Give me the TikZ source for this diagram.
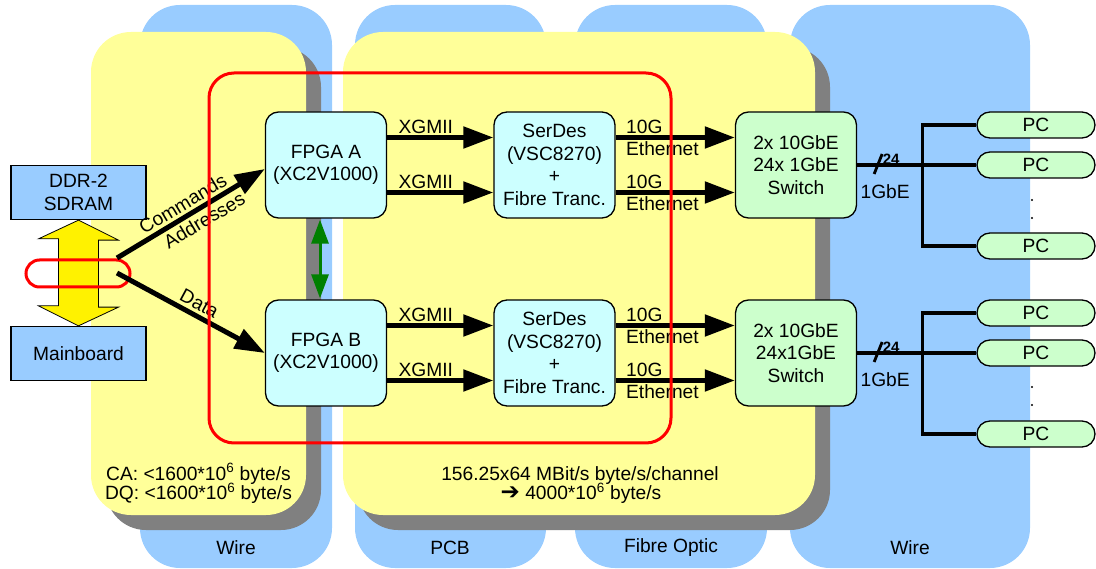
\documentclass[tikz,border=0pt]{standalone}
\usepackage{fontspec}
\setmainfont{Liberation Sans}
\newfontfamily\dejavu{DejaVu Sans}
\usetikzlibrary{arrows.meta,calc}
\definecolor{colblue}{HTML}{99CCFF}
\definecolor{ylw}{HTML}{FFFF99}
\definecolor{shd}{HTML}{808080}
\definecolor{cyanbox}{HTML}{CCFFFF}
\definecolor{greenbox}{HTML}{CCFFCC}
\definecolor{darkgreen}{HTML}{008000}
\definecolor{redline}{HTML}{FF0000}
\begin{document}
\begin{tikzpicture}[x=1pt,y=-1pt,
  every node/.style={font=\fontsize{19.2}{22.5}\selectfont, inner sep=0pt},
  column/.style={fill=colblue, rounded corners=40pt},
  panel/.style={fill=ylw, rounded corners=40pt},
  panelshadow/.style={fill=shd, rounded corners=40pt},
  chip/.style={draw, line width=1.3pt, fill=cyanbox, rounded corners=13pt, minimum width=121pt, minimum height=106pt, align=center},
  swbox/.style={chip, fill=greenbox},
  membox/.style={draw, line width=1.3pt, fill=colblue, minimum width=135pt, minimum height=54pt, align=center},
  pcbox/.style={draw, line width=1.3pt, fill=greenbox, rounded corners=13pt, minimum width=118pt, minimum height=26pt},
  fat/.style={line width=5pt, -{Triangle[length=30pt,width=21pt]}},
  tree/.style={line width=3.5pt},
  lbl/.style={anchor=base west},
  redbox/.style={draw=redline, line width=3pt},
  greenarrow/.style={draw=darkgreen, line width=3pt, {Triangle[length=24pt,width=17pt]}-{Triangle[length=24pt,width=17pt]}},
  bigarrow/.style={draw, line width=0.8pt, fill=yellow},
]
\useasboundingbox (0,0) rectangle (1096,569);

% background columns
\fill[column] (140,5) rectangle (332,568);
\fill[column] (355,5) rectangle (546,568);
\fill[column] (575,5) rectangle (767,568);
\fill[column] (790,5) rectangle (1030,568);
\node (wire1) at (236,548) {Wire};
\node (pcb) at (450,548) {PCB};
\node (fibre) at (671,548) {Fibre Optic};
\node (wire2) at (910,548) {Wire};

% yellow panels with shadows
\fill[panelshadow] (106,47) rectangle (321,530);
\fill[panelshadow] (358,47) rectangle (830,530);
\fill[panel] (91,32) rectangle (306,515);
\fill[panel] (343,32) rectangle (815,515);

\node[anchor=base] (ca) at (198.5,480) {CA: <1600*10\textsuperscript{6} byte/s};
\node[anchor=base] (dq) at (198.5,500) {DQ: <1600*10\textsuperscript{6} byte/s};
\node[anchor=base] (rate) at (580,480) {156.25x64 MBit/s byte/s/channel};
\node[anchor=base] (total) at (581,500) {{\dejavu\fontsize{23}{24}\selectfont ➔} 4000*10\textsuperscript{6} byte/s};

% memory side
\node[membox] (ddr) at (78.5,192.5) {DDR-2\\SDRAM};
\node[membox] (main) at (78.5,353.5) {Mainboard};
\draw[bigarrow] (ddr.south) -- ++(40,20) -- ++(-20,0) -- ++(0,67) -- ++(20,0)
  -- (main.north) -- ++(-40,-20) -- ++(20,0) -- ++(0,-67) -- ++(-20,0) -- cycle;

% chips
\node[chip] (fpgaA) at (326,165) {FPGA A\\(XC2V1000)};
\node[chip] (fpgaB) at (326,353) {FPGA B\\(XC2V1000)};
\node[chip] (serA) at (554.5,165) {SerDes\\(VSC8270)\\+\\Fibre Tranc.};
\node[chip] (serB) at (554.5,353) {SerDes\\(VSC8270)\\+\\Fibre Tranc.};
\node[swbox] (swA) at (796,165) {2x 10GbE\\24x 1GbE\\Switch};
\node[swbox] (swB) at (796,353) {2x 10GbE\\24x1GbE\\Switch};

% PCs
\node[pcbox] (pcA1) at (1036,125) {PC};
\node[pcbox] (pcA2) at (1036,165) {PC};
\node[pcbox] (pcA3) at (1036,246) {PC};
\node[pcbox] (pcB1) at (1036,313) {PC};
\node[pcbox] (pcB2) at (1036,353) {PC};
\node[pcbox] (pcB3) at (1036,434) {PC};
\fill (1032,200) circle (1.2);
\fill (1032,218) circle (1.2);
\fill (1032,387) circle (1.2);
\fill (1032,405) circle (1.2);

% trees
\foreach \s in {A,B}{
  \draw[tree] (pc\s1.west) -- ++(-54,0) |- (pc\s3.west);
  \draw[tree] (sw\s.east) -- (pc\s2.west);
  \draw[line width=2.8pt] ($(sw\s.east)+(17,9)$) -- ++(8,-20);
  \node[font=\bfseries\fontsize{15}{18}\selectfont] at ($(sw\s.east)+(34,-6)$) {24};
  \node at ($(sw\s.east)+(28,27)$) {1GbE};
}

% chip-to-chip arrows
\foreach \s in {A,B}{
  \draw[fat] ([yshift=27.5pt]fpga\s.east) -- ([yshift=27.5pt]ser\s.west)
    node[lbl, pos=0, xshift=9pt, yshift=4pt] {XGMII};
  \draw[fat] ([yshift=-27.5pt]fpga\s.east) -- ([yshift=-27.5pt]ser\s.west)
    node[lbl, pos=0, xshift=9pt, yshift=4pt] {XGMII};
  \draw[fat] ([yshift=27.5pt]ser\s.east) -- ([yshift=27.5pt]sw\s.west)
    node[lbl, pos=0, xshift=8pt, yshift=4pt] {10G}
    node[lbl, pos=0, xshift=8pt, yshift=-18pt] {Ethernet};
  \draw[fat] ([yshift=-27.5pt]ser\s.east) -- ([yshift=-27.5pt]sw\s.west)
    node[lbl, pos=0, xshift=8pt, yshift=4pt] {10G}
    node[lbl, pos=0, xshift=8pt, yshift=-18pt] {Ethernet};
}
\draw[greenarrow] ([xshift=-6pt,yshift=-1pt]fpgaA.south) -- ([xshift=-6pt,yshift=1pt]fpgaB.north);

% memory interface
\node[redbox, rounded corners=13.5pt, minimum width=104pt, minimum height=27pt] (pill) at (78,273.5) {};
\coordinate (cmdS) at (117,258);
\coordinate (dataS) at (117,273);
\draw[fat] (cmdS) -- ([yshift=-4pt]fpgaA.west)
  node[midway, sloped, above=3pt, xshift=-2pt] {Commands}
  node[midway, sloped, below=3pt, xshift=8pt] {Addresses};
\draw[fat] (dataS) -- (fpgaB.west)
  node[pos=0.5, sloped, above=3pt, xshift=3pt] {Data};

% red frame
\draw[redbox, rounded corners=25pt] (209,73) rectangle (671,443);
\end{tikzpicture}
\end{document}
